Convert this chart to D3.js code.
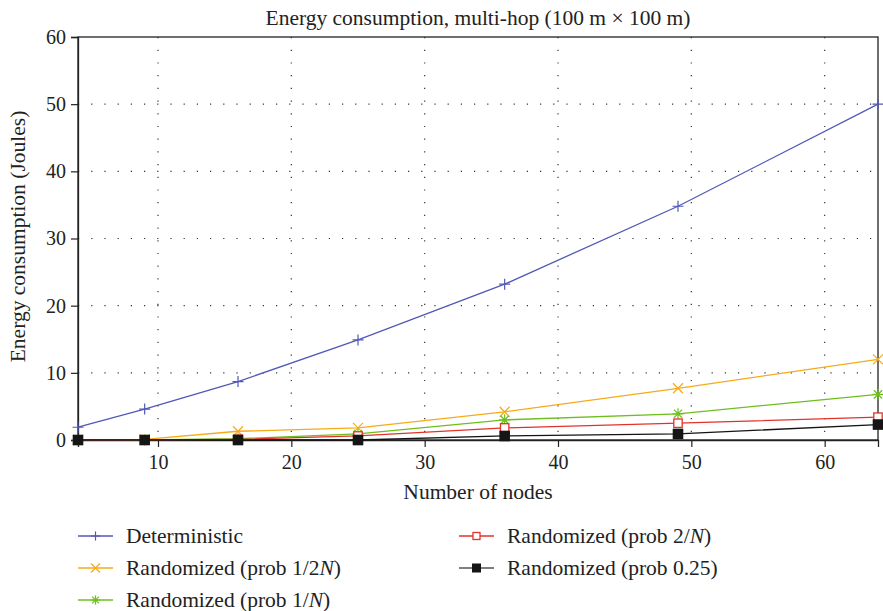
<!DOCTYPE html>
<html>
<head>
<meta charset="utf-8">
<script src="https://cdn.jsdelivr.net/npm/d3@7"></script>
<style>
  body { margin: 0; background: #fff; }
  text { font-family: "Liberation Serif", "DejaVu Serif", serif; fill: #222; }
</style>
</head>
<body>
<div id="chart"></div>
<script>
// data
var nodes = [4, 9, 16, 25, 36, 49, 64];
var deterministic = [1.9, 4.6, 8.7, 14.9, 23.2, 34.8, 50.0];
var randHalfN = [0, 0.1, 1.3, 1.8, 4.2, 7.7, 12.0];
var randOneN = [0, 0, 0.2, 0.9, 3.0, 3.9, 6.8];
var randTwoN = [0, 0, 0.1, 0.6, 1.8, 2.5, 3.4];
var randQuarter = [0, 0, 0, 0, 0.6, 0.9, 2.3];
var xTicks = [10, 20, 30, 40, 50, 60];
var yTicks = [0, 10, 20, 30, 40, 50, 60];

var svgWidth = 883;
var svgHeight = 611;
var margin = { top: 37, right: 5, bottom: 171, left: 78 };
var width = svgWidth - margin.left - margin.right;
var height = svgHeight - margin.top - margin.bottom;

var series = [
  { name: "Deterministic", values: deterministic, color: "#5058b6", marker: "plus" },
  { name: "Randomized (prob 1/2", italic: "N", tail: ")", values: randHalfN, color: "#f7aa18", marker: "cross" },
  { name: "Randomized (prob 1/", italic: "N", tail: ")", values: randOneN, color: "#6cbf1c", marker: "star" },
  { name: "Randomized (prob 2/", italic: "N", tail: ")", values: randTwoN, color: "#e2332b", marker: "square" },
  { name: "Randomized (prob 0.25)", values: randQuarter, color: "#151515", marker: "filled", legendLine: "#555" }
];

var svg = d3.select("#chart").append("svg")
  .attr("width", svgWidth)
  .attr("height", svgHeight);

var chartGroup = svg.append("g")
  .attr("transform", `translate(${margin.left}, ${margin.top})`);

var x = d3.scaleLinear().domain([4, 64]).range([0, width]);
var y = d3.scaleLinear().domain([0, 60]).range([height, 0]);

// dotted grid
chartGroup.append("g").selectAll("line").data(xTicks).join("line")
  .attr("x1", d => x(d)).attr("x2", d => x(d))
  .attr("y1", 0).attr("y2", height)
  .attr("stroke", "#333").attr("stroke-width", 1.2)
  .attr("stroke-dasharray", "1.2,11.5");
chartGroup.append("g").selectAll("line").data(yTicks.slice(1, -1)).join("line")
  .attr("x1", 0).attr("x2", width)
  .attr("y1", d => y(d)).attr("y2", d => y(d))
  .attr("stroke", "#333").attr("stroke-width", 1.2)
  .attr("stroke-dasharray", "1.2,12");

// frame
chartGroup.append("rect")
  .attr("width", width).attr("height", height)
  .attr("fill", "none").attr("stroke", "#222").attr("stroke-width", 1.3);

var xAxis = chartGroup.append("g")
  .attr("transform", `translate(0, ${height})`)
  .call(d3.axisBottom(x).tickValues(xTicks).tickSize(7).tickPadding(8));
var yAxis = chartGroup.append("g")
  .call(d3.axisLeft(y).tickValues(yTicks).tickSize(7).tickPadding(5));

[xAxis, yAxis].forEach(function(a) {
  a.select(".domain").attr("stroke", "#222").attr("stroke-width", 1.3);
  a.selectAll(".tick line").attr("stroke", "#222").attr("stroke-width", 1.2);
  a.selectAll(".tick text")
    .style("font-family", "'Liberation Serif', serif")
    .style("font-size", "20px").attr("fill", "#222");
});

// marker drawing
function drawMarker(g, type, color, s) {
  if (type === "plus") {
    g.append("path").attr("d", `M${-s},0H${s}M0,${-s}V${s}`)
      .attr("stroke", color).attr("stroke-width", 1.2).attr("fill", "none");
  } else if (type === "cross") {
    g.append("path").attr("d", `M${-s},${-s}L${s},${s}M${-s},${s}L${s},${-s}`)
      .attr("stroke", color).attr("stroke-width", 1.2).attr("fill", "none");
  } else if (type === "star") {
    var k = s * 0.75;
    g.append("path").attr("d", `M${-s},0H${s}M0,${-s}V${s}M${-k},${-k}L${k},${k}M${-k},${k}L${k},${-k}`)
      .attr("stroke", color).attr("stroke-width", 1.2).attr("fill", "none");
  } else if (type === "square") {
    g.append("rect").attr("x", -s).attr("y", -s).attr("width", 2 * s).attr("height", 2 * s)
      .attr("stroke", color).attr("stroke-width", 1.3).attr("fill", "#fff");
  } else if (type === "filled") {
    g.append("rect").attr("x", -s).attr("y", -s).attr("width", 2 * s).attr("height", 2 * s)
      .attr("fill", color);
  }
}

var markerSize = { plus: 5.5, cross: 5, star: 5.5, square: 4.2, filled: 5.3 };

var line = d3.line().x((d, i) => x(nodes[i])).y(d => y(d));

series.forEach(function(s) {
  chartGroup.append("path")
    .datum(s.values)
    .attr("d", line)
    .attr("fill", "none")
    .attr("stroke", s.color)
    .attr("stroke-width", 1.3);
  s.values.forEach(function(v, i) {
    var g = chartGroup.append("g").attr("transform", `translate(${x(nodes[i])}, ${y(v)})`);
    drawMarker(g, s.marker, s.color, markerSize[s.marker]);
  });
});

// titles
svg.append("text")
  .attr("x", margin.left + width / 2).attr("y", 25)
  .attr("text-anchor", "middle").style("font-size", "21.5px")
  .text("Energy consumption, multi-hop (100 m × 100 m)");

svg.append("text")
  .attr("x", margin.left + width / 2).attr("y", 499)
  .attr("text-anchor", "middle").style("font-size", "21.5px")
  .text("Number of nodes");

svg.append("text")
  .attr("transform", `translate(25, ${margin.top + height / 2 - 2}) rotate(-90)`)
  .attr("text-anchor", "middle").style("font-size", "21.5px")
  .text("Energy consumption (Joules)");

// legend
var legendPos = [
  { x: 78, y: 536 }, { x: 78, y: 568 }, { x: 78, y: 600 },
  { x: 459, y: 536 }, { x: 459, y: 568 }
];
series.forEach(function(s, i) {
  var p = legendPos[i];
  var g = svg.append("g").attr("transform", `translate(${p.x}, ${p.y})`);
  g.append("line").attr("x1", 0).attr("x2", 35).attr("y1", 0).attr("y2", 0)
    .attr("stroke", s.legendLine || s.color).attr("stroke-width", 1.3);
  var m = g.append("g").attr("transform", "translate(17.5, 0)");
  drawMarker(m, s.marker, s.color, s.marker === "square" ? 3.5 : 4.5);
  var t = g.append("text").attr("x", 48).attr("y", 7).style("font-size", "21.5px");
  t.append("tspan").text(s.name);
  if (s.italic) {
    t.append("tspan").style("font-style", "italic").text(s.italic);
    t.append("tspan").text(s.tail);
  }
});
</script>
</body>
</html>
